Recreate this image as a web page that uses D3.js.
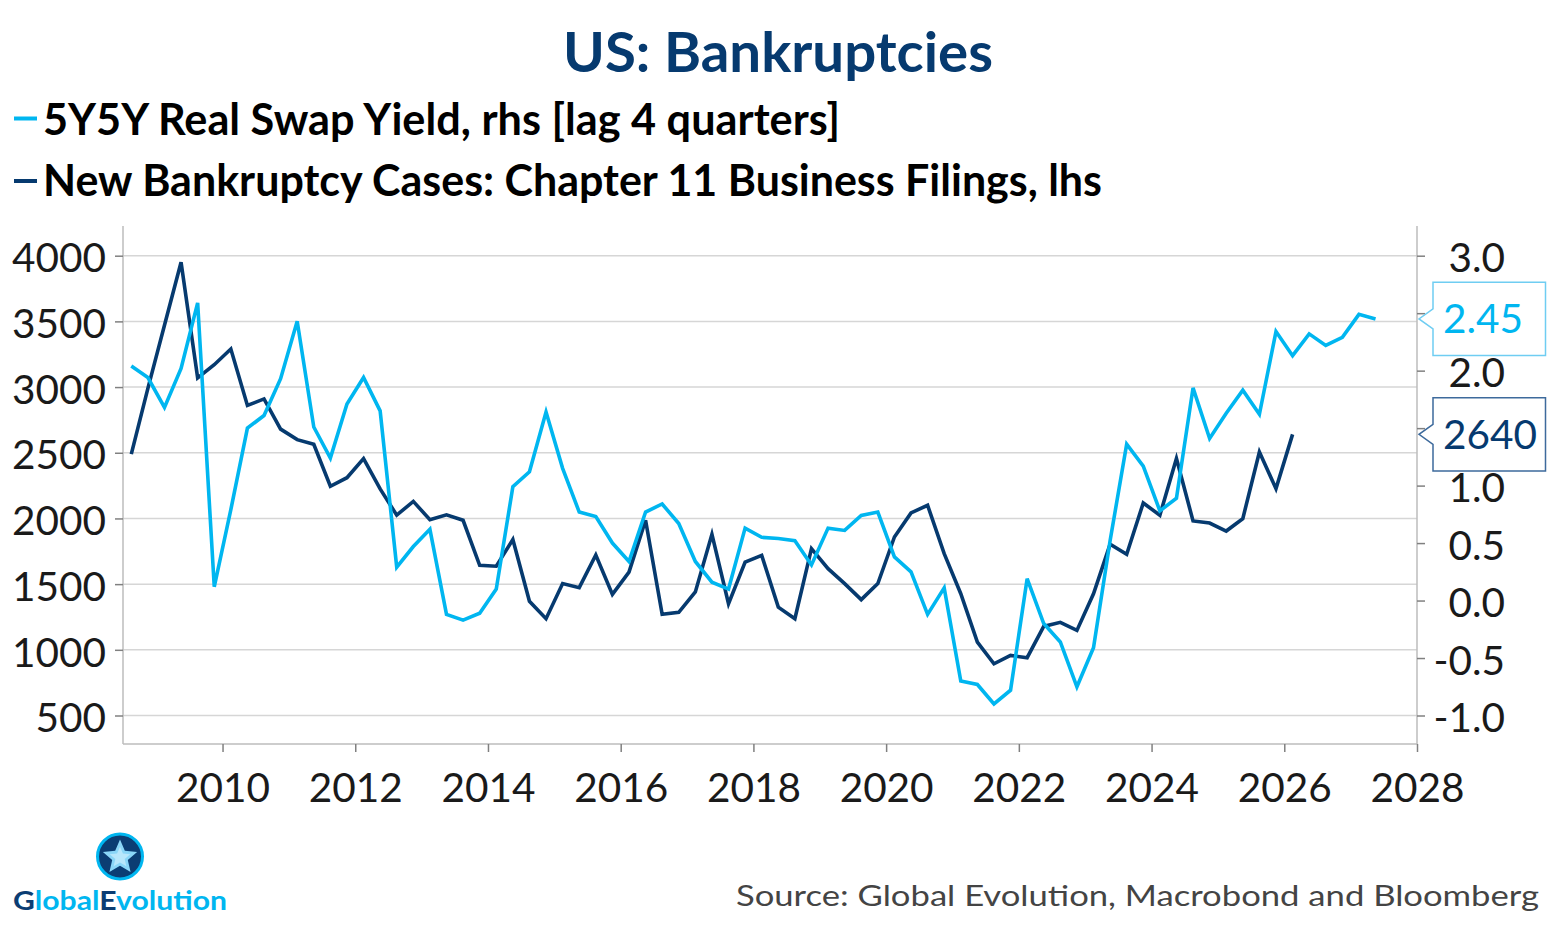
<!DOCTYPE html>
<html>
<head>
<meta charset="utf-8">
<script src="https://cdn.jsdelivr.net/npm/d3@7"></script>
<style>
html, body { margin: 0; padding: 0; background: #ffffff; }
svg { display: block; font-family: Lato, "Open Sans", sans-serif; }
</style>
</head>
<body>
<svg id="chart" width="1559" height="935"></svg>
<script>
// ---------------- DATA ----------------
const chartTitle = "US: Bankruptcies";
const seriesNames = [
  "5Y5Y Real Swap Yield, rhs [lag 4 quarters]",
  "New Bankruptcy Cases: Chapter 11 Business Filings, lhs"
];
const sourceText = "Source: Global Evolution, Macrobond and Bloomberg";
const firstQuarter = 2008.625;      // mid Q3 2008, quarterly observations
const quarterStep = 0.25;

// Chapter 11 business filings (lhs), quarterly
const bankruptcyFilings = [
  2490, 2990, 3470, 3950, 3070, 3170, 3290, 2860, 2910, 2680,
  2600, 2565, 2245, 2310, 2455, 2225, 2025, 2130, 1990, 2028,
  1986, 1643, 1636, 1839, 1369, 1237, 1504, 1473, 1722, 1422,
  1592, 1986, 1270, 1285, 1440, 1879, 1351, 1668, 1719, 1325,
  1237, 1770, 1618, 1504, 1382, 1504, 1859, 2042, 2100, 1732,
  1427, 1059, 894, 957, 940, 1178, 1209, 1148, 1427, 1803,
  1727, 2118, 2024, 2456, 1981, 1965, 1904, 1999, 2506, 2227,
  2640
];

// 5Y5Y real swap yield (rhs), lagged 4 quarters
const realSwapYield = [
  2.04, 1.94, 1.68, 2.02, 2.59, 0.12, 0.79, 1.50, 1.61, 1.93,
  2.43, 1.51, 1.24, 1.71, 1.94, 1.65, 0.29, 0.47, 0.62, -0.12,
  -0.17, -0.11, 0.10, 0.99, 1.12, 1.64, 1.15, 0.77, 0.73, 0.50,
  0.34, 0.77, 0.84, 0.67, 0.34, 0.16, 0.10, 0.63, 0.55, 0.54,
  0.52, 0.31, 0.63, 0.61, 0.74, 0.77, 0.38, 0.25, -0.12, 0.11,
  -0.70, -0.73, -0.90, -0.78, 0.19, -0.20, -0.36, -0.75, -0.41, 0.52,
  1.36, 1.17, 0.78, 0.89, 1.85, 1.41, 1.63, 1.83, 1.62, 2.34,
  2.13, 2.32, 2.22, 2.29, 2.49, 2.45
];

const leftTicks = [500, 1000, 1500, 2000, 2500, 3000, 3500, 4000];
const rightTicks = [-1.0, -0.5, 0.0, 0.5, 1.0, 1.5, 2.0, 2.5, 3.0];
const rightTicksHiddenByCallouts = [1.5, 2.5];
const yearTicks = [2010, 2012, 2014, 2016, 2018, 2020, 2022, 2024, 2026, 2028];

// ---------------- STYLE ----------------
const C = {
  navy: "#063a6f",
  cyan: "#00b6f0",
  grid: "#d6d6d6",
  axis: "#bcbcbc",
  tick: "#808080",
  text: "#1a1a1a",
  source: "#444444"
};

const svg = d3.select("#chart");
const plot = { left: 123, right: 1417, top: 255.7, bottom: 715.5, axisTop: 226, axisBottom: 744 };

const x = d3.scaleLinear().domain([2008.5, 2028]).range([plot.left, plot.right]);
const yL = d3.scaleLinear().domain([500, 4000]).range([plot.bottom, plot.top]);
const yR = d3.scaleLinear().domain([-1, 3]).range([plot.bottom, plot.top]);
const dateOf = i => firstQuarter + quarterStep * i;

function fit(sel, target) {
  const w = sel.node().getComputedTextLength();
  if (Math.abs(w - target) > 2) {
    sel.attr("textLength", target).attr("lengthAdjust", "spacingAndGlyphs");
  }
  return sel;
}

// ---------------- TITLE & LEGEND ----------------
fit(svg.append("text")
  .attr("x", 563).attr("y", 71.5)
  .attr("font-size", 55).attr("font-weight", 700)
  .attr("fill", C.navy)
  .text(chartTitle), 430);

const legendRows = [
  { name: seriesNames[0], color: C.cyan, y: 134.5, dashY: 118.5, width: 797 },
  { name: seriesNames[1], color: C.navy, y: 195.5, dashY: 181, width: 1059 }
];
legendRows.forEach(r => {
  svg.append("line")
    .attr("x1", 14).attr("x2", 37).attr("y1", r.dashY).attr("y2", r.dashY)
    .attr("stroke", r.color).attr("stroke-width", 4);
  fit(svg.append("text")
    .attr("x", 43).attr("y", r.y)
    .attr("font-size", 44).attr("font-weight", 700)
    .attr("fill", "#000")
    .text(r.name), r.width);
});

// ---------------- GRID ----------------
svg.append("g").selectAll("line").data(leftTicks).join("line")
  .attr("x1", plot.left).attr("x2", plot.right)
  .attr("y1", d => yL(d)).attr("y2", d => yL(d))
  .attr("stroke", C.grid).attr("stroke-width", 1.5);

// axis frame lines
svg.append("line").attr("x1", plot.left).attr("x2", plot.left)
  .attr("y1", plot.axisTop).attr("y2", plot.axisBottom)
  .attr("stroke", C.axis).attr("stroke-width", 1.5);
svg.append("line").attr("x1", plot.right).attr("x2", plot.right)
  .attr("y1", plot.axisTop).attr("y2", plot.axisBottom)
  .attr("stroke", C.axis).attr("stroke-width", 1.5);
svg.append("line").attr("x1", plot.left).attr("x2", plot.right)
  .attr("y1", plot.axisBottom).attr("y2", plot.axisBottom)
  .attr("stroke", C.axis).attr("stroke-width", 1.5);

// ---------------- AXES ----------------
function styleAxis(g) {
  g.select(".domain").remove();
  g.selectAll(".tick line").attr("stroke", C.tick).attr("stroke-width", 1.5);
  g.selectAll(".tick text").attr("fill", C.text).attr("font-size", 40.5)
    .attr("font-family", "Lato, 'Open Sans', sans-serif").attr("font-weight", 400);
}

svg.append("g").attr("transform", `translate(${plot.left},0)`)
  .call(d3.axisLeft(yL).tickValues(leftTicks).tickSize(8).tickPadding(9).tickFormat(d3.format("d")))
  .call(styleAxis)
  .call(g => g.selectAll(".tick text").attr("dy", "0.4em"));

svg.append("g").attr("transform", `translate(${plot.right},0)`)
  .call(d3.axisRight(yR).tickValues(rightTicks).tickSize(8)
    .tickFormat(d => rightTicksHiddenByCallouts.includes(d) ? "" : d.toFixed(1)))
  .call(styleAxis)
  .call(g => g.selectAll(".tick text").attr("x", 88).attr("text-anchor", "end").attr("dy", "0.4em"));

svg.append("g").attr("transform", `translate(0,${plot.axisBottom})`)
  .call(d3.axisBottom(x).tickValues(yearTicks).tickSize(8).tickPadding(21).tickFormat(d3.format("d")))
  .call(styleAxis);

// ---------------- LINES ----------------
const lineL = d3.line().x((d, i) => x(dateOf(i))).y(d => yL(d));
const lineR = d3.line().x((d, i) => x(dateOf(i))).y(d => yR(d));

svg.append("path").datum(bankruptcyFilings)
  .attr("d", lineL).attr("fill", "none")
  .attr("stroke", C.navy).attr("stroke-width", 3.6).attr("stroke-linejoin", "miter");

svg.append("path").datum(realSwapYield)
  .attr("d", lineR).attr("fill", "none")
  .attr("stroke", C.cyan).attr("stroke-width", 3.6).attr("stroke-linejoin", "miter");

// ---------------- VALUE CALLOUTS ----------------
function callout(yTip, label, color, border) {
  const tipX = plot.right + 2, bx = 1433, bw = 112.5, bh = 73.4, ph = 10;
  const top = yTip - bh / 2, bot = yTip + bh / 2;
  svg.append("path")
    .attr("d", `M${bx},${top} H${bx + bw} V${bot} H${bx} V${yTip + ph} L${tipX},${yTip} L${bx},${yTip - ph} Z`)
    .attr("fill", "#fff").attr("stroke", border).attr("stroke-width", 1.5);
  svg.append("text").attr("x", 1443).attr("y", yTip + 14.5)
    .attr("font-size", 40.5).attr("fill", color).text(label);
}
const lastYield = realSwapYield[realSwapYield.length - 1];
const lastFilings = bankruptcyFilings[bankruptcyFilings.length - 1];
callout(yR(lastYield), lastYield.toFixed(2), C.cyan, "#6fcdf2");
callout(yL(lastFilings), String(lastFilings), C.navy, "#3d6a9c");

// ---------------- SOURCE ----------------
fit(svg.append("text")
  .attr("x", 1539).attr("y", 906).attr("text-anchor", "end")
  .attr("font-size", 29).attr("fill", C.source)
  .text(sourceText), 803);

// ---------------- LOGO ----------------
const logo = svg.append("g").attr("transform", "translate(120,856.5)");
logo.append("circle").attr("r", 22.5).attr("fill", "#0b3d73")
  .attr("stroke", C.cyan).attr("stroke-width", 3);
const starPts = d3.range(10).map(k => {
  const r = k % 2 === 0 ? 18 : 8.2;
  const a = -Math.PI / 2 + k * Math.PI / 5;
  return [r * Math.cos(a), r * Math.sin(a) + 1];
});
logo.append("path").attr("d", "M" + starPts.join("L") + "Z").attr("fill", "#8ad6f7");
logo.append("path").attr("d", "M" + starPts.map(p => [p[0] * 0.6, p[1] * 0.6 + 0.5]).join("L") + "Z")
  .attr("fill", "#b8e7fb");

const logoText = svg.append("text").attr("x", 13).attr("y", 910)
  .attr("font-size", 27).attr("font-weight", 700);
logoText.append("tspan").attr("fill", "#0b3d73").text("G");
logoText.append("tspan").attr("fill", C.cyan).text("lobal");
logoText.append("tspan").attr("fill", "#0b3d73").text("E");
logoText.append("tspan").attr("fill", C.cyan).text("volution");
fit(logoText, 214);
</script>
</body>
</html>
